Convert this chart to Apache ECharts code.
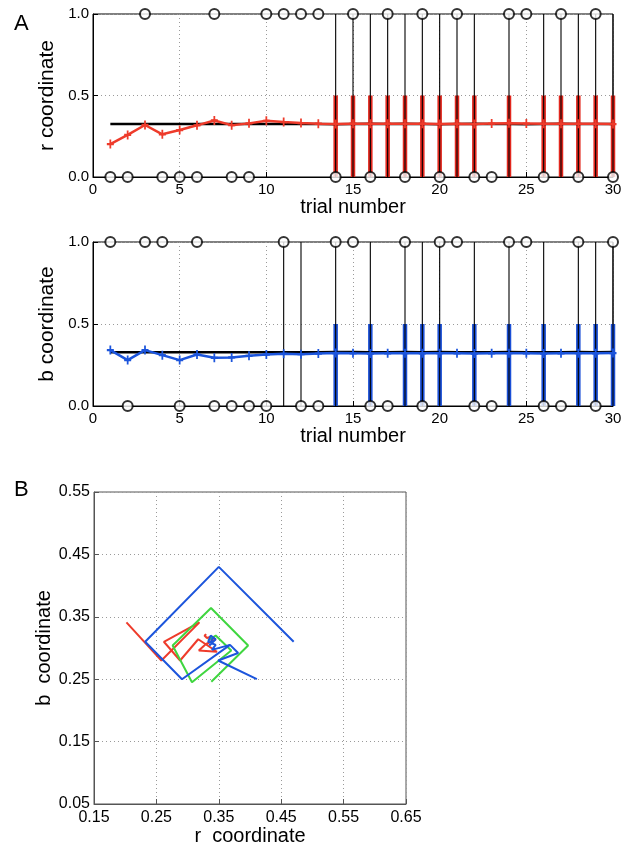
<!DOCTYPE html>
<html>
<head>
<meta charset="utf-8">
<script src="https://cdn.jsdelivr.net/npm/echarts@6/dist/echarts.min.js"></script>
<style>
html,body{margin:0;padding:0;background:#fff;}
#chart{width:638px;height:852px;}
</style>
</head>
<body>
<div id="chart"></div>
<script>
// ---------- DATA ----------
const trials = [1,2,3,4,5,6,7,8,9,10,11,12,13,14,15,16,17,18,19,20,21,22,23,24,25,26,27,28,29,30];

// r coordinate estimate (red line with + markers)
const rEst = [0.202,0.258,0.319,0.262,0.288,0.317,0.347,0.318,0.329,0.345,0.337,0.331,0.327,0.325,0.327,0.326,0.327,0.326,0.327,0.325,0.326,0.325,0.328,0.330,0.328,0.326,0.327,0.326,0.326,0.325];
// black reference line, r panel
const rRef = [0.325,0.325,0.325,0.325,0.325,0.325,0.325,0.325,0.325,0.325,0.325,0.325,0.325,0.324,0.325,0.326,0.325,0.326,0.325,0.324,0.325,0.326,0.325,0.325,0.324,0.325,0.326,0.325,0.325,0.325];
// outcome circles, r panel (1 = top, 0 = bottom)
const rOutcome = [0,0,1,0,0,0,1,0,0,1,1,1,1,0,1,0,1,0,1,0,1,0,0,1,1,0,1,0,1,0];
// trials with full black stems and red bars, r panel
const rStemTrials = [14,15,16,17,18,19,20,21,22,24,26,27,28,29,30];
const rBarTrials  = [14,15,16,17,18,19,20,21,22,24,26,27,28,29,30];
const rBarHeight  = [0.5,0.5,0.5,0.5,0.5,0.5,0.5,0.5,0.5,0.5,0.5,0.5,0.5,0.5,0.5];

// b coordinate estimate (blue line with + markers)
const bEst = [0.341,0.280,0.341,0.310,0.280,0.314,0.294,0.296,0.306,0.314,0.318,0.316,0.320,0.323,0.321,0.320,0.321,0.322,0.321,0.322,0.321,0.320,0.321,0.322,0.321,0.320,0.321,0.322,0.321,0.323];
const bRef = [0.328,0.328,0.328,0.328,0.328,0.328,0.328,0.328,0.328,0.328,0.328,0.328,0.328,0.329,0.329,0.328,0.328,0.329,0.328,0.329,0.328,0.328,0.328,0.329,0.328,0.328,0.328,0.329,0.328,0.329];
const bOutcome = [1,0,1,1,0,1,0,0,0,0,1,0,0,1,1,0,0,1,0,1,1,0,0,1,1,0,0,1,0,1];
const bStemTrials = [11,12,14,16,18,19,20,22,24,26,28,29,30];
const bBarTrials  = [14,16,18,19,20,22,24,26,28,29,30];
const bBarHeight  = [0.5,0.5,0.5,0.5,0.5,0.5,0.5,0.5,0.5,0.5,0.5];

// Panel B trajectories (r, b)
const greenR = [0.338,0.397,0.3375,0.276,0.307,0.370,0.345,0.333,0.339,0.336];
const greenB = [0.246,0.304,0.364,0.304,0.245,0.296,0.320,0.312,0.318,0.315];
const blueR  = [0.470,0.350,0.232,0.291,0.368,0.381,0.349,0.411];
const blueB  = [0.310,0.430,0.310,0.250,0.305,0.292,0.280,0.250];
const blueTailR = [0.368,0.339,0.345,0.333,0.337,0.345,0.335,0.340];
const blueTailB = [0.305,0.297,0.305,0.310,0.320,0.314,0.304,0.316];

// ---------- STYLE ----------
const FONT = "'Liberation Sans', Arial, Helvetica, sans-serif";
const RED = '#ee3b2b', BLUE = '#1c55dc', GREEN = '#3fd63f';
const PLUS = 'path://M5,0L5,10M0,5L10,5';

function zip(a, b){ return a.map((v,i)=>[v,b[i]]); }

function stemSeries(xi, trialsArr, heights, color, width){
  return {
    type:'custom', xAxisIndex:xi, yAxisIndex:xi,
    data: trialsArr.map((t,i)=>[t, heights ? heights[i] : 1]),
    renderItem: function(params, api){
      const p0 = api.coord([api.value(0), 0]);
      const p1 = api.coord([api.value(0), api.value(1)]);
      return {type:'line', shape:{x1:p0[0],y1:p0[1],x2:p1[0],y2:p1[1]},
        style:{stroke:color, lineWidth:width}};
    },
    silent:true
  };
}

function timeAxisX(gi){
  return {
    type:'value', gridIndex:gi, min:0, max:30, interval:5,
    name:'trial number', nameLocation:'middle', nameGap:19,
    nameTextStyle:{fontFamily:FONT, fontSize:20, color:'#000'},
    axisLine:{lineStyle:{color:'#000', width:1}},
    axisTick:{inside:true, length:5, lineStyle:{color:'#000'}},
    axisLabel:{fontFamily:FONT, fontSize:15, color:'#000', margin:5},
    splitLine:{show:true, lineStyle:{color:'#9a9a9a', type:[1,3], width:1}}
  };
}
function probAxisY(gi, name){
  return {
    type:'value', gridIndex:gi, min:0, max:1, interval:0.5,
    name:name, nameLocation:'middle', nameGap:29, nameRotate:90,
    nameTextStyle:{fontFamily:FONT, fontSize:21, color:'#000'},
    axisLine:{lineStyle:{color:'#000', width:1}},
    axisTick:{inside:true, length:5, lineStyle:{color:'#000'}},
    axisLabel:{fontFamily:FONT, fontSize:15, color:'#000', margin:4, formatter:v=>v.toFixed(1)},
    splitLine:{show:true, lineStyle:{color:'#9a9a9a', type:[1,3], width:1}}
  };
}

const option = {
  animation:false,
  backgroundColor:'#fff',
  graphic:[
    {type:'text', left:14, top:13, style:{text:'A', font:'22px '+FONT, fill:'#000'}},
    {type:'text', left:14, top:479, style:{text:'B', font:'22px '+FONT, fill:'#000'}}
  ],
  grid:[
    {left:93, top:14, width:520, height:163, show:true, borderColor:'#000', borderWidth:1, backgroundColor:'transparent'},
    {left:93, top:242, width:520, height:164, show:true, borderColor:'#000', borderWidth:1, backgroundColor:'transparent'},
    {left:94, top:492, width:312, height:312, show:true, borderColor:'#555', borderWidth:1, backgroundColor:'transparent'}
  ],
  xAxis:[
    timeAxisX(0), timeAxisX(1),
    {
      type:'value', gridIndex:2, min:0.15, max:0.65, interval:0.1,
      name:'r  coordinate', nameLocation:'middle', nameGap:20,
      nameTextStyle:{fontFamily:FONT, fontSize:20, color:'#000'},
      axisLine:{lineStyle:{color:'#555', width:1}},
      axisTick:{inside:true, length:5, lineStyle:{color:'#555'}},
      axisLabel:{fontFamily:FONT, fontSize:16, color:'#000', margin:6, formatter:v=>v.toFixed(2)},
      splitLine:{show:true, lineStyle:{color:'#9a9a9a', type:[1,3], width:1}}
    }
  ],
  yAxis:[
    probAxisY(0,'r coordinate'), probAxisY(1,'b coordinate'),
    {
      type:'value', gridIndex:2, min:0.05, max:0.55, interval:0.1,
      name:'b  coordinate', nameLocation:'middle', nameGap:38, nameRotate:90,
      nameTextStyle:{fontFamily:FONT, fontSize:20, color:'#000'},
      axisLine:{lineStyle:{color:'#555', width:1}},
      axisTick:{inside:true, length:5, lineStyle:{color:'#555'}},
      axisLabel:{fontFamily:FONT, fontSize:16, color:'#000', margin:4, formatter:v=>v.toFixed(2)},
      splitLine:{show:true, lineStyle:{color:'#9a9a9a', type:[1,3], width:1}}
    }
  ],
  series:[
    // ---- panel A, r ----
    stemSeries(0, rBarTrials, rBarHeight, '#e2281e', 4.5),
    {type:'line', xAxisIndex:0, yAxisIndex:0, data:zip(trials, rRef), symbol:'none',
      lineStyle:{color:'#000', width:2.5}, silent:true},
    {type:'line', xAxisIndex:0, yAxisIndex:0, data:zip(trials, rEst), symbol:PLUS, symbolSize:[7,9],
      lineStyle:{color:RED, width:2.5}, itemStyle:{color:RED, borderColor:RED, borderWidth:2}, silent:true},
    stemSeries(0, rStemTrials, null, '#000', 1.1),
    {type:'scatter', xAxisIndex:0, yAxisIndex:0, data:zip(trials, rOutcome), symbol:'circle', symbolSize:10,
      itemStyle:{color:'#fff', borderColor:'#000', borderWidth:2}, clip:false, silent:true},
    // ---- panel A, b ----
    stemSeries(1, bBarTrials, bBarHeight, '#1a4fd6', 4.5),
    {type:'line', xAxisIndex:1, yAxisIndex:1, data:zip(trials, bRef), symbol:'none',
      lineStyle:{color:'#000', width:2.5}, silent:true},
    {type:'line', xAxisIndex:1, yAxisIndex:1, data:zip(trials, bEst), symbol:PLUS, symbolSize:[7,9],
      lineStyle:{color:BLUE, width:2.5}, itemStyle:{color:BLUE, borderColor:BLUE, borderWidth:2}, silent:true},
    stemSeries(1, bStemTrials, null, '#000', 1.1),
    {type:'scatter', xAxisIndex:1, yAxisIndex:1, data:zip(trials, bOutcome), symbol:'circle', symbolSize:10,
      itemStyle:{color:'#fff', borderColor:'#000', borderWidth:2}, clip:false, silent:true},
    // ---- panel B ----
    {type:'line', xAxisIndex:2, yAxisIndex:2, data:zip(rEst, bEst), symbol:'none',
      lineStyle:{color:RED, width:2}, silent:true},
    {type:'line', xAxisIndex:2, yAxisIndex:2, data:zip(greenR, greenB), symbol:'none',
      lineStyle:{color:GREEN, width:2}, silent:true},
    {type:'line', xAxisIndex:2, yAxisIndex:2, data:zip(blueR, blueB), symbol:'none',
      lineStyle:{color:BLUE, width:2}, silent:true},
    {type:'line', xAxisIndex:2, yAxisIndex:2, data:zip(blueTailR, blueTailB), symbol:'none',
      lineStyle:{color:BLUE, width:2}, silent:true}
  ]
};

const chart = echarts.init(document.getElementById('chart'), null, {renderer:'canvas'});
chart.setOption(option);
</script>
</body>
</html>
